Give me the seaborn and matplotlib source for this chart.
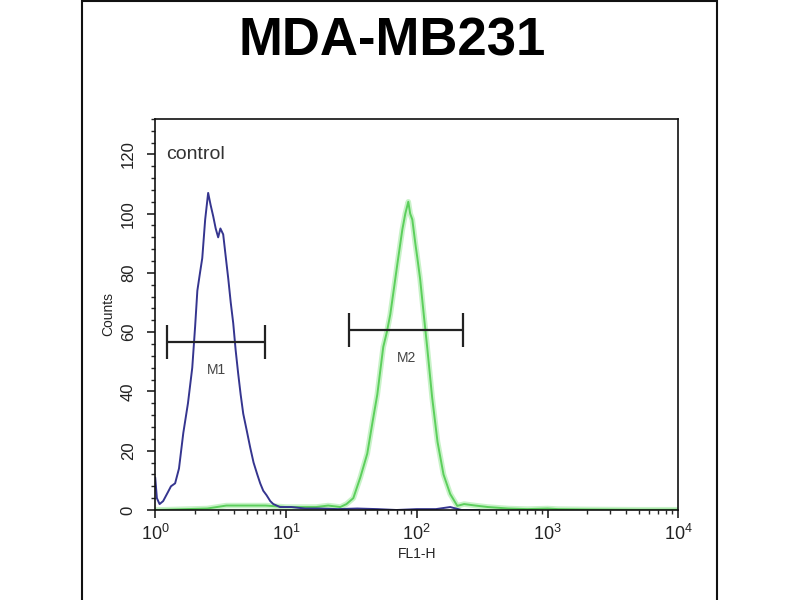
import matplotlib
matplotlib.use("Agg")
import matplotlib.pyplot as plt
import matplotlib.ticker as mticker
from matplotlib.patches import Rectangle
import numpy as np
import pandas as pd
import seaborn as sns

# histogram traces (FL1-H channel, counts)
blue_x = [1.0, 1.03, 1.08, 1.15, 1.25, 1.32, 1.42, 1.52, 1.64, 1.78,
          1.92, 2.02, 2.10, 2.20, 2.29, 2.41, 2.54, 2.65, 2.78, 2.90,
          3.03, 3.15, 3.31, 3.45, 3.62, 3.78, 3.95, 4.12, 4.31, 4.50,
          4.71, 5.00, 5.33, 5.65, 6.03, 6.35, 6.70, 7.1, 7.58, 8.0,
          9.0, 11, 14, 18, 25, 35, 50, 70, 100, 140, 180, 220, 300]
blue_y = [11, 4, 2, 3, 6, 8, 9, 14, 26, 36,
          48, 62, 74, 80, 85, 98, 107, 103, 99, 95,
          92, 95, 93, 86, 78, 70, 63, 54, 46, 39,
          32.5, 27, 21, 16, 12, 9, 6.5, 5, 3, 2,
          1, 1, 0.5, 0.5, 0.3, 0.5, 0.3, 0, 0.3, 0.3, 1, 0, 0]

green_x = [1.0, 2.5, 3.5, 5, 7, 10, 13, 17, 21, 26,
           29, 32.7, 37, 41.8, 46, 49.9, 55.4, 59, 62.7, 67,
           71, 77.5, 81.7, 86.1, 89, 92.4, 97.4, 101, 106, 113,
           120, 131, 144, 160, 180, 204, 230, 280, 350, 500,
           700, 1000, 1200, 2000, 5000, 10000]
green_y = [0, 0.5, 1.5, 1.5, 1.5, 1, 1, 1, 1.5, 1,
           2, 4, 11, 19, 30, 39, 55, 60, 66, 75,
           83, 94.6, 100, 104, 100, 98, 90, 85, 78, 66,
           55, 38, 23, 12, 5.4, 1.4, 2, 1.5, 1, 0.5,
           0.3, 0.5, 0.3, 0.2, 0.1, 0.1]

# marker gates
gate_names = ["M1", "M2"]
gate_lo = [1.24, 30.5]
gate_hi = [6.9, 227]
gate_y = [56.6, 60.7]

y_ticks = [0, 20, 40, 60, 80, 100, 120]
x_ticks = [1, 10, 100, 1000, 10000]

sns.set_style("white")
plt.rcParams["font.family"] = ["Liberation Sans", "DejaVu Sans"]

blue_df = pd.DataFrame({"FL1-H": blue_x, "Counts": blue_y})
green_df = pd.DataFrame({"FL1-H": green_x, "Counts": green_y})

fig = plt.figure(figsize=(8, 6), dpi=100)
ax = fig.add_axes([0.194, 0.15, 0.654, 0.652])

# soft glow under green trace, like the scanned original
sns.lineplot(data=green_df, x="FL1-H", y="Counts", ax=ax, color="#c8f2c8",
             linewidth=4, estimator=None, sort=False)
sns.lineplot(data=green_df, x="FL1-H", y="Counts", ax=ax, color="#5ccf5c",
             linewidth=1.4, estimator=None, sort=False)
sns.lineplot(data=blue_df, x="FL1-H", y="Counts", ax=ax, color="#35358f",
             linewidth=1.4, estimator=None, sort=False)

for name, lo, hi, gy in zip(gate_names, gate_lo, gate_hi, gate_y):
    ax.hlines(gy, lo, hi, color="#222222", lw=1.6)
    ax.vlines([lo, hi], gy - 5.8, gy + 5.8, color="#222222", lw=1.6)
    ax.text(np.sqrt(lo * hi), gy - 9.5, name, ha="center", va="center",
            fontsize=10, color="#444444")

ax.text(1.22, 120, "control", fontsize=14, color="#333333", va="center")

ax.set_xscale("log")
ax.set_xlim(1, 10000)
ax.set_ylim(0, 132)
ax.set_xticks(x_ticks)
ax.set_xticklabels([r"$\mathregular{10^{%d}}$" % int(np.log10(v)) for v in x_ticks],
                   fontsize=13, color="#222222")
ax.xaxis.set_minor_locator(mticker.LogLocator(base=10, subs=np.arange(2, 10)))
ax.xaxis.set_minor_formatter(mticker.NullFormatter())
ax.set_yticks(y_ticks)
ax.set_yticklabels([str(v) for v in y_ticks], rotation=90, va="center",
                   fontsize=12, color="#333333")
ax.yaxis.set_minor_locator(mticker.MultipleLocator(4))

ax.tick_params(axis="both", which="major", direction="out", length=6, width=1.2,
               colors="#222222", bottom=True, left=True)
ax.tick_params(axis="both", which="minor", direction="out", length=3, width=1,
               bottom=True, left=True)
ax.tick_params(axis="y", pad=8)
ax.tick_params(axis="x", pad=4)

for s in ax.spines.values():
    s.set_color("#111111")
    s.set_linewidth(1.2)

ax.set_xlabel("FL1-H", fontsize=10, color="#222222", labelpad=2)
ax.set_ylabel("Counts", fontsize=10, color="#222222", labelpad=4)

fig.text(0.49, 0.93, "MDA-MB231", fontsize=38, fontweight="bold",
         color="black", ha="center", va="center")

# outer frame of the original image
fig.patches.append(Rectangle((0.1025, -0.01), 0.794, 1.008, transform=fig.transFigure,
                             fill=False, edgecolor="#111111", linewidth=1.5))

fig.savefig("out.png", dpi=100)
plt.close()
